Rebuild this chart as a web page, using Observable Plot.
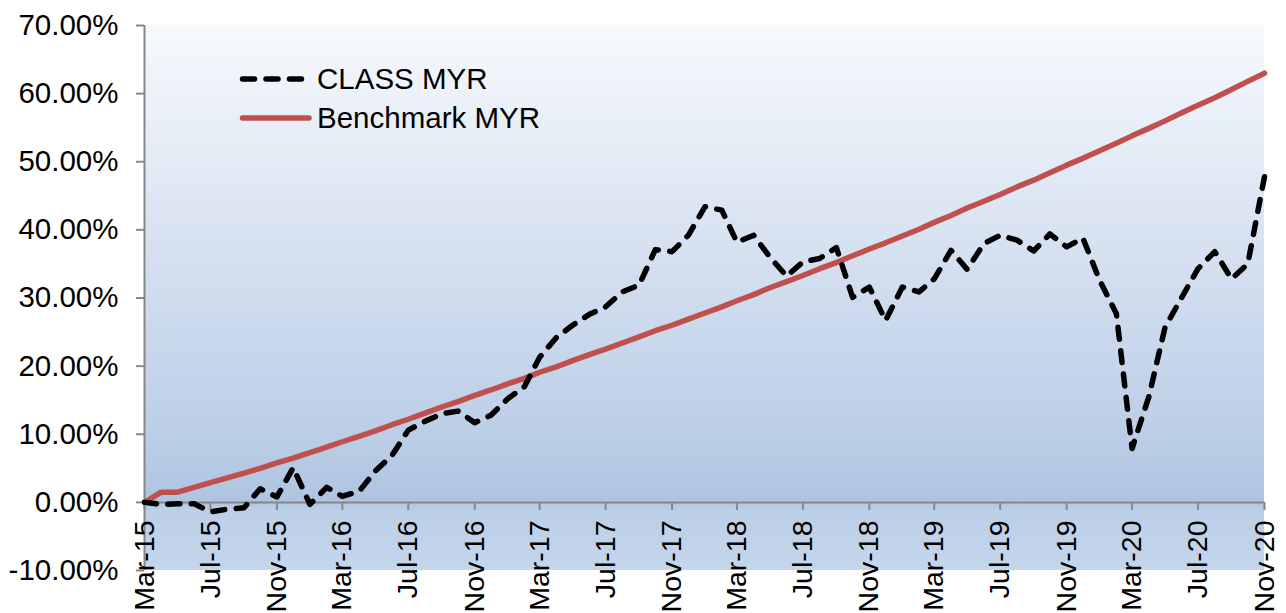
<!DOCTYPE html>
<html><head><meta charset="utf-8">
<script src="https://cdn.jsdelivr.net/npm/d3@7"></script>
<script src="https://cdn.jsdelivr.net/npm/@observablehq/plot@0.6"></script>
<style>
body{margin:0;background:#fff;}
#chart{position:relative;width:1286px;height:613px;}
</style>
</head><body><div id="chart"></div>
<script>
const months = [
  "Mar-15","Apr-15","May-15","Jun-15","Jul-15","Aug-15","Sep-15","Oct-15","Nov-15","Dec-15",
  "Jan-16","Feb-16","Mar-16","Apr-16","May-16","Jun-16","Jul-16","Aug-16","Sep-16","Oct-16","Nov-16","Dec-16",
  "Jan-17","Feb-17","Mar-17","Apr-17","May-17","Jun-17","Jul-17","Aug-17","Sep-17","Oct-17","Nov-17","Dec-17",
  "Jan-18","Feb-18","Mar-18","Apr-18","May-18","Jun-18","Jul-18","Aug-18","Sep-18","Oct-18","Nov-18","Dec-18",
  "Jan-19","Feb-19","Mar-19","Apr-19","May-19","Jun-19","Jul-19","Aug-19","Sep-19","Oct-19","Nov-19","Dec-19",
  "Jan-20","Feb-20","Mar-20","Apr-20","May-20","Jun-20","Jul-20","Aug-20","Sep-20","Oct-20","Nov-20"
];
const classMYR = [
  0.0, -0.3, -0.2, -0.2, -1.4, -1.0, -0.8, 2.0, 0.8, 5.1,
  -0.3, 2.2, 0.9, 1.6, 4.6, 6.9, 10.6, 11.9, 13.0, 13.4, 11.7, 12.8,
  15.2, 17.0, 21.3, 24.2, 26.0, 27.6, 28.7, 30.9, 31.9, 37.1, 36.8, 39.2,
  43.4, 42.9, 38.2, 39.2, 36.0, 33.2, 35.3, 35.8, 37.4, 30.1, 31.6, 26.7,
  31.6, 30.9, 32.8, 37.0, 34.2, 38.0, 39.2, 38.5, 36.9, 39.4, 37.5, 38.8,
  32.6, 27.7, 7.9, 15.5, 25.7, 30.1, 34.3, 36.8, 32.8, 35.0, 47.8
];
const benchmarkMYR = [
  0.0, 1.5, 1.5, 2.2, 2.9, 3.6, 4.3, 5.0, 5.8, 6.5,
  7.3, 8.1, 8.9, 9.7, 10.5, 11.4, 12.2, 13.1, 14.0, 14.8, 15.7, 16.5,
  17.4, 18.2, 19.1, 19.9, 20.8, 21.7, 22.5, 23.4, 24.3, 25.2, 26.0, 26.9,
  27.8, 28.7, 29.6, 30.5, 31.5, 32.4, 33.3, 34.3, 35.2, 36.2, 37.2, 38.1,
  39.1, 40.1, 41.1, 42.1, 43.2, 44.2, 45.2, 46.3, 47.3, 48.4, 49.5, 50.5,
  51.6, 52.7, 53.8, 54.9, 56.0, 57.2, 58.3, 59.4, 60.6, 61.8, 63.0
];
const xTickLabels = ["Mar-15","Jul-15","Nov-15","Mar-16","Jul-16","Nov-16","Mar-17","Jul-17","Nov-17",
  "Mar-18","Jul-18","Nov-18","Mar-19","Jul-19","Nov-19","Mar-20","Jul-20","Nov-20"];
const yTicks = [-10, 0, 10, 20, 30, 40, 50, 60, 70];
const seriesNames = ["CLASS MYR", "Benchmark MYR"];

const parse = d3.utcParse("%b-%y");
const dates = months.map(parse);
const data = months.map((m, i) => ({date: dates[i], cls: classMYR[i], bench: benchmarkMYR[i]}));
const axisColor = "#878787";
const font = "'Liberation Sans', Arial, sans-serif";

const plot = Plot.plot({
  width: 1286, height: 613,
  marginLeft: 144, marginRight: 22, marginTop: 25, marginBottom: 111,
  style: {fontFamily: font, fontSize: "28px", color: "#000", background: "transparent", overflow: "visible"},
  x: {type: "utc", domain: [dates[0], dates[dates.length - 1]]},
  y: {domain: [yTicks[0], yTicks[yTicks.length - 1]], range: [570, 25]},
  marks: [
    Plot.rect([{x1: dates[0], x2: dates[dates.length - 1], y1: yTicks[0], y2: yTicks[yTicks.length - 1]}],
      {x1: "x1", x2: "x2", y1: "y1", y2: "y2", fill: "url(#bgGrad)"}),
    Plot.ruleY([0], {stroke: axisColor, strokeWidth: 2}),
    Plot.ruleX([dates[0]], {y1: yTicks[0], y2: yTicks[yTicks.length - 1], stroke: axisColor, strokeWidth: 2}),
    Plot.axisX(xTickLabels.map(parse), {anchor: "bottom", tickSize: 8, tickPadding: 10, tickRotate: -90,
      tickFormat: d3.utcFormat("%b-%y"), stroke: axisColor, strokeWidth: 2, fill: "#000", fontSize: 28.5, label: null}),
    Plot.axisY(yTicks, {anchor: "left", tickSize: 8, tickPadding: 18, tickFormat: d => d.toFixed(2) + "%",
      stroke: axisColor, strokeWidth: 2, fill: "#000", fontSize: 29.5, label: null}),
    Plot.line(data, {x: "date", y: "bench", stroke: "#c0504d", strokeWidth: 5.5,
      strokeLinecap: "round", strokeLinejoin: "round"}),
    Plot.line(data, {x: "date", y: "cls", stroke: "#000", strokeWidth: 5.5, strokeDasharray: "12,11.5",
      strokeLinecap: "round", strokeLinejoin: "round"})
  ]
});

const svg = d3.select(plot);
const grad = svg.insert("defs", ":first-child").append("linearGradient")
  .attr("id", "bgGrad").attr("x1", 0).attr("y1", 0).attr("x2", 0).attr("y2", 1);
[[0, "#f7f9fd"], [0.25, "#e3ebf5"], [0.5, "#cfdcee"], [0.75, "#bccee7"], [0.875, "#aec4e0"],
 [0.89, "#bccfe7"], [1, "#c4d6ec"]].forEach(([o, c]) => grad.append("stop").attr("offset", o).attr("stop-color", c));

// legend inside plot
const lg = svg.append("g").attr("font-family", font).attr("font-size", 29.5).attr("text-anchor", "start");
lg.append("line").attr("x1", 242.5).attr("x2", 301.5).attr("y1", 79).attr("y2", 79)
  .attr("stroke", "#000").attr("stroke-width", 5.5).attr("stroke-dasharray", "12,11.5").attr("stroke-linecap", "round");
lg.append("text").attr("x", 317).attr("y", 89).attr("fill", "#000").attr("text-anchor", "start").text(seriesNames[0]);
lg.append("line").attr("x1", 242.5).attr("x2", 309).attr("y1", 118).attr("y2", 118)
  .attr("stroke", "#c0504d").attr("stroke-width", 5.5).attr("stroke-linecap", "round");
lg.append("text").attr("x", 317).attr("y", 128).attr("fill", "#000").attr("text-anchor", "start").text(seriesNames[1]);

document.getElementById("chart").appendChild(plot);
</script>
</body></html>
